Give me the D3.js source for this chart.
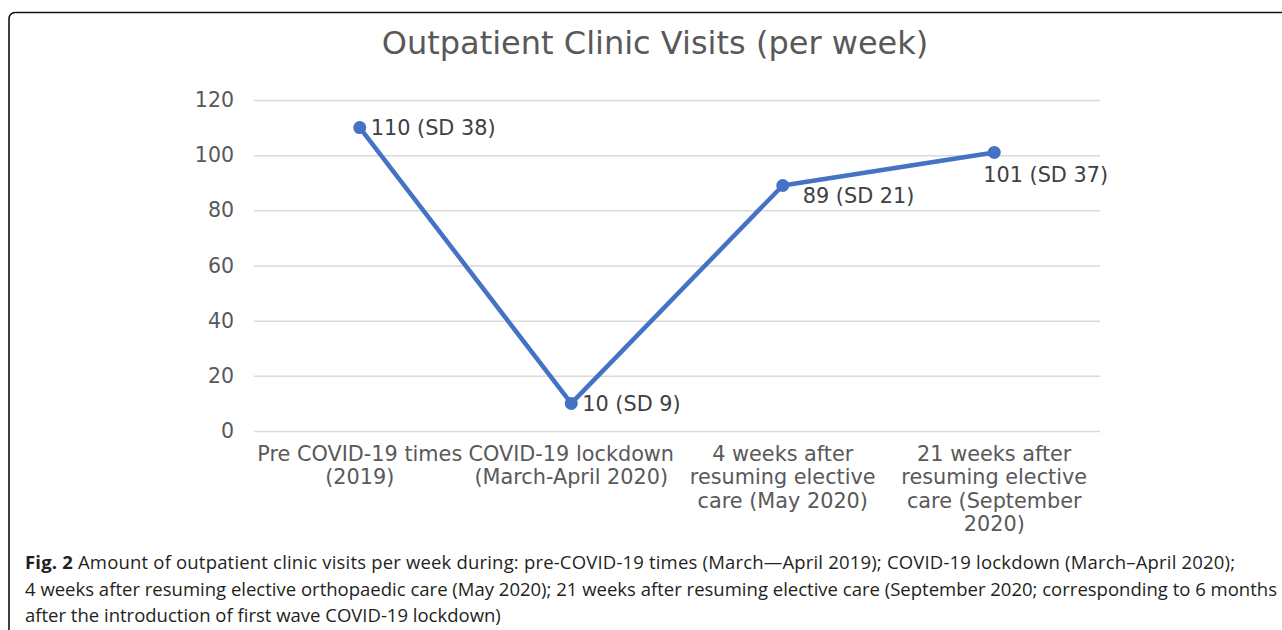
<!DOCTYPE html>
<html>
<head>
<meta charset="utf-8">
<script src="https://cdn.jsdelivr.net/npm/d3@7"></script>
<style>
  body { margin: 0; background: #fff; }
  svg { display: block; }
</style>
</head>
<body>
<svg id="chart"></svg>
<script>
// chart data
const categories = [
    "Pre COVID-19 times (2019)",
    "COVID-19 lockdown (March-April 2020)",
    "4 weeks after resuming elective care (May 2020)",
    "21 weeks after resuming elective care (September 2020)"
];
const visits = [110, 10, 89, 101];
const sdValues = [38, 9, 21, 37];
const yTicks = [0, 20, 40, 60, 80, 100, 120];
const captionLines = [
    "Amount of outpatient clinic visits per week during: pre-COVID-19 times (March\u2014April 2019); COVID-19 lockdown (March\u2013April 2020);",
    "4 weeks after resuming elective orthopaedic care (May 2020); 21 weeks after resuming elective care (September 2020; corresponding to 6 months",
    "after the introduction of first wave COVID-19 lockdown)"
];

// where each data label sits relative to its point (Excel style placement)
const labelPlacement = ["right", "right", "belowRight", "below"];

const width = 1282;
const height = 630;
const margin = {left: 254, right: 182, top: 100, bottom: 199};

const svg = d3.select("#chart")
    .attr("width", width)
    .attr("height", height);

// outer frame (runs off the right and bottom edge)
svg.append("rect")
    .attr("x", 9)
    .attr("y", 12.5)
    .attr("width", 1300)
    .attr("height", 660)
    .attr("rx", 6)
    .attr("fill", "none")
    .attr("stroke", "#111")
    .attr("stroke-width", 1.6);

const x = d3.scaleBand()
    .domain(categories)
    .range([margin.left, width - margin.right]);

const y = d3.scaleLinear()
    .domain([0, 120])
    .range([height - margin.bottom, margin.top]);

// title
svg.append("text")
    .attr("x", 655)
    .attr("y", 54)
    .attr("text-anchor", "middle")
    .style("font-family", "DejaVu Sans")
    .style("font-size", "32px")
    .style("fill", "#595959")
    .text("Outpatient Clinic Visits (per week)");

// gridlines + y labels
const yAxis = svg.append("g")
    .attr("transform", `translate(${margin.left},0)`)
    .call(d3.axisLeft(y)
        .tickValues(yTicks)
        .tickSize(-(width - margin.left - margin.right))
        .tickPadding(20));

yAxis.select(".domain").remove();
yAxis.selectAll(".tick line")
    .attr("stroke", "#d9d9d9")
    .attr("stroke-width", 1.5);
yAxis.selectAll(".tick text")
    .style("font-family", "DejaVu Sans")
    .style("font-size", "20.5px")
    .style("fill", "#595959");

// category labels, wrapped to the band width
const xAxis = svg.append("g")
    .attr("transform", `translate(0,${height - margin.bottom})`)
    .call(d3.axisBottom(x).tickSize(0).tickPadding(15));

xAxis.select(".domain").remove();
xAxis.selectAll(".tick text")
    .style("font-family", "DejaVu Sans")
    .style("font-size", "20.8px")
    .style("fill", "#595959")
    .call(wrap, x.bandwidth() - 2);

function wrap(texts, maxWidth) {
    texts.each(function() {
        const text = d3.select(this);
        const words = text.text().split(/\s+/);
        const yAttr = text.attr("y");
        text.text(null);
        let line = [];
        let lineNo = 0;
        let tspan = text.append("tspan").attr("x", 0).attr("y", yAttr).attr("dy", "0.71em");
        words.forEach(w => {
            line.push(w);
            tspan.text(line.join(" "));
            if (tspan.node().getComputedTextLength() > maxWidth && line.length > 1) {
                line.pop();
                tspan.text(line.join(" "));
                line = [w];
                lineNo++;
                tspan = text.append("tspan")
                    .attr("x", 0)
                    .attr("y", yAttr)
                    .attr("dy", (0.71 + lineNo * 1.13) + "em")
                    .text(w);
            }
        });
    });
}

// line + markers
const points = categories.map((c, i) => ({cat: c, value: visits[i], sd: sdValues[i], place: labelPlacement[i]}));
const cx = d => x(d.cat) + x.bandwidth() / 2;

svg.append("path")
    .datum(points)
    .attr("fill", "none")
    .attr("stroke", "#4472c4")
    .attr("stroke-width", 4.5)
    .attr("stroke-linejoin", "round")
    .attr("d", d3.line().x(cx).y(d => y(d.value)));

svg.selectAll(".marker")
    .data(points)
    .join("circle")
    .attr("class", "marker")
    .attr("cx", cx)
    .attr("cy", d => y(d.value))
    .attr("r", 6.5)
    .attr("fill", "#4472c4");

// data labels
const labelOffset = {
    right: {dx: 11, dy: 7.5},
    belowRight: {dx: 20, dy: 17.5},
    below: {dx: -11, dy: 29.5}
};

svg.selectAll(".dlabel")
    .data(points)
    .join("text")
    .attr("class", "dlabel")
    .attr("x", d => cx(d) + labelOffset[d.place].dx)
    .attr("y", d => y(d.value) + labelOffset[d.place].dy)
    .style("font-family", "DejaVu Sans")
    .style("font-size", "20.8px")
    .style("fill", "#404040")
    .text(d => `${d.value} (SD ${d.sd})`);

// figure caption (first two lines are justified in the original)
const captionWidths = [1210, 1252, null];
const caption = svg.append("g")
    .style("font-family", "Open Sans")
    .style("font-size", "18.5px")
    .style("fill", "#231f20");

captionLines.forEach((line, i) => {
    const t = caption.append("text")
        .attr("x", 25)
        .attr("y", 569 + i * 26.5);
    if (captionWidths[i]) {
        t.attr("textLength", captionWidths[i]).attr("lengthAdjust", "spacing");
    }
    if (i === 0) {
        t.append("tspan").style("font-weight", "bold").text("Fig. 2");
        t.append("tspan").text(" " + line);
    } else {
        t.text(line);
    }
});
</script>
</body>
</html>
